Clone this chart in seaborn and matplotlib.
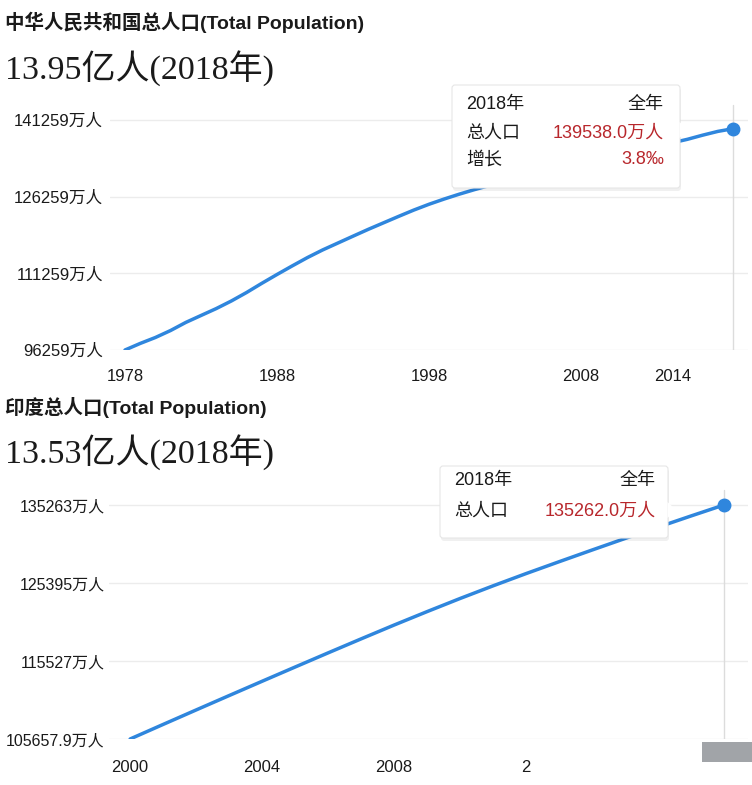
import matplotlib
matplotlib.use("Agg")
import matplotlib.pyplot as plt
from matplotlib.patches import FancyBboxPatch, Polygon, Rectangle
import seaborn as sns
import pandas as pd

# ---------------- data ----------------
china_years = list(range(1978, 2019))
china_pop = [96259, 97542, 98705, 100072, 101654, 103008, 104357, 105851, 107507, 109300,
             111026, 112704, 114333, 115823, 117171, 118517, 119850, 121121, 122389, 123626,
             124761, 125786, 126743, 127627, 128453, 129227, 129988, 130756, 131448, 132129,
             132802, 133450, 134091, 134735, 135404, 136072, 136782, 137462, 138271, 139008,
             139538]
china_yticks = [96259, 111259, 126259, 141259]
china_yticklabels = ["96259万人", "111259万人", "126259万人", "141259万人"]
china_xticks = [1978, 1988, 1998, 2008, 2014]
china_xticklabels = ["1978", "1988", "1998", "2008", "2014"]

india_years = list(range(2000, 2019))
india_pop = [105657.9, 107500, 109330, 111150, 112960, 114760, 116550, 118320, 120070,
             121770, 123430, 125030, 126580, 128080, 129560, 131020, 132450, 133870, 135262]
india_yticks = [105657.9, 115527, 125395, 135263]
india_yticklabels = ["105657.9万人", "115527万人", "125395万人", "135263万人"]
india_xticks = [2000, 2004, 2008, 2012]
india_xticklabels = ["2000", "2004", "2008", "2"]

china_title = "中华人民共和国总人口(Total Population)"
china_sub = "13.95亿人(2018年)"
india_title = "印度总人口(Total Population)"
india_sub = "13.53亿人(2018年)"
china_tip = [("2018年", "全年"), ("总人口", "139538.0万人"), ("增长", "3.8‰")]
india_tip = [("2018年", "全年"), ("总人口", "135262.0万人")]

# ---------------- style ----------------
sns.set_theme(style="white")
SANS = ["Liberation Sans", "Noto Sans CJK SC", "DejaVu Sans"]
SERIF = ["Liberation Serif", "Noto Sans CJK SC", "DejaVu Sans"]
plt.rcParams["font.family"] = SANS
LINE = "#2f86dd"
RED = "#b8272c"
TXT = "#1a1a1a"

W, H = 752, 785
fig = plt.figure(figsize=(W / 100, H / 100), dpi=100)
fig.patch.set_facecolor("white")


def px_axes(l, t, r, b):
    return fig.add_axes([l / W, 1 - b / H, (r - l) / W, (b - t) / H])


def fx(x):
    return x / W


def fy(y):
    return 1 - y / H


def draw_panel(ax, years, pop, yticks, yticklabels, xticks, xticklabels, xlim, ylim, xpad,
               cross_top_frac, yfs, ypad):
    df = pd.DataFrame({"year": years, "pop": pop})
    sns.lineplot(data=df, x="year", y="pop", ax=ax, color=LINE, linewidth=2.5)
    ax.plot([years[-1]], [pop[-1]], "o", color=LINE, markersize=9, zorder=5)
    ax.set_xlim(*xlim)
    ax.set_ylim(*ylim)
    ax.set_yticks(yticks)
    ax.set_yticklabels(yticklabels, fontsize=yfs, color=TXT)
    ax.set_xticks(xticks)
    ax.set_xticklabels(xticklabels, fontsize=12, color=TXT, fontweight="medium")
    ax.tick_params(axis="both", length=0)
    ax.tick_params(axis="y", pad=ypad)
    ax.tick_params(axis="x", pad=xpad)
    for s in ax.spines.values():
        s.set_visible(False)
    for t in yticks:
        ax.axhline(t, color="#ececec", lw=1, zorder=0)
    ax.axvline(years[-1], ymin=0, ymax=cross_top_frac, color="#dcdcdc", lw=1, zorder=0)
    ax.set_xlabel("")
    ax.set_ylabel("")
    ax.set_facecolor("white")


# top panel (China)
ax1 = px_axes(110, 100, 748, 350)
draw_panel(ax1, china_years, china_pop, china_yticks, china_yticklabels,
           china_xticks, china_xticklabels,
           (1978 - 15 / 15.2, 2018 + 15 / 15.2),
           (96259, 96259 + 250 * 15000 / 76.7), 14, 0.98, 12, 5)

# bottom panel (India)
ax2 = px_axes(109, 480, 748, 739)
draw_panel(ax2, india_years, india_pop, india_yticks, india_yticklabels,
           india_xticks, india_xticklabels,
           (2000 - 21 / 32.8, 2018 + 24 / 32.8),
           (105657.9, 135263 + 25 * 9868 / 78), 15, 0.96, 11.5, 3)

# titles
fig.text(fx(5), fy(22), china_title, fontsize=14, fontweight="bold", color=TXT, va="center", ha="left")
fig.text(fx(5), fy(68), china_sub, fontsize=24.5, color=TXT, va="center", ha="left", family=SERIF)
fig.text(fx(5), fy(408), india_title, fontsize=14, fontweight="bold", color=TXT, va="center", ha="left")
fig.text(fx(5), fy(452), india_sub, fontsize=24.5, color=TXT, va="center", ha="left", family=SERIF)


def tooltip(l, t, r, b, rows, row_y, lx, rx, arrow_y):
    shadow = FancyBboxPatch((fx(l + 1), fy(b + 3)), fx(r - l), (b - t) / H,
                            boxstyle="round,pad=0,rounding_size=0.004",
                            transform=fig.transFigure, facecolor="#000000", alpha=0.06,
                            edgecolor="none", zorder=10)
    box = FancyBboxPatch((fx(l), fy(b)), fx(r - l), (b - t) / H,
                         boxstyle="round,pad=0,rounding_size=0.004",
                         transform=fig.transFigure, facecolor="white",
                         edgecolor="#e6e6e6", lw=0.8, zorder=11)
    fig.patches.extend([shadow, box])
    tri = Polygon([(fx(r - 0.5), fy(arrow_y - 8)), (fx(r + 8), fy(arrow_y)), (fx(r - 0.5), fy(arrow_y + 8))],
                  closed=True, transform=fig.transFigure, facecolor="white",
                  edgecolor="none", zorder=12)
    fig.patches.append(tri)
    for i, ((left, right), y) in enumerate(zip(rows, row_y)):
        fig.text(fx(lx), fy(y), left, fontsize=13, color=TXT, va="center", ha="left", zorder=13)
        fig.text(fx(rx), fy(y), right, fontsize=13, color=(TXT if i == 0 else RED),
                 va="center", ha="right", zorder=13)


tooltip(452, 85, 680, 188, china_tip, [104, 133, 160], 466, 664, 130)
tooltip(440, 466, 668, 538, india_tip, [481, 511], 454, 656, 510)

# grey smudge at bottom right of the reference
fig.patches.append(Rectangle((fx(702), fy(762)), fx(50), 20 / H, transform=fig.transFigure,
                             facecolor="#8a8d92", edgecolor="none", alpha=0.8, zorder=14))

fig.savefig("out.png", dpi=100, facecolor="white")
